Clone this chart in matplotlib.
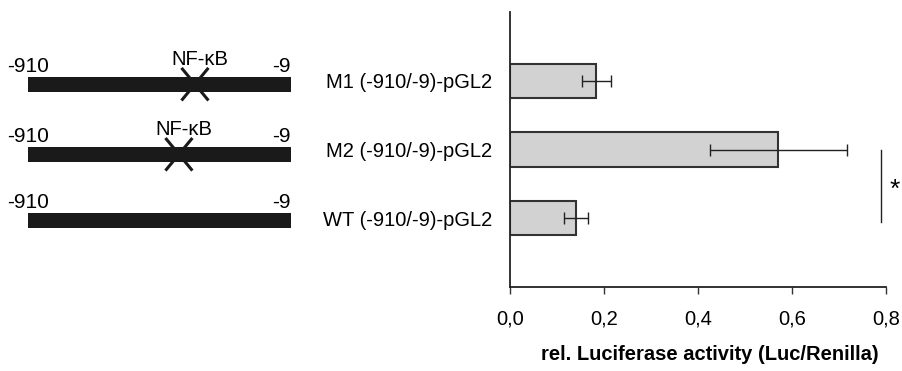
import matplotlib
matplotlib.use("Agg")
import matplotlib.pyplot as plt

plt.rcParams['font.family'] = ['Liberation Sans', 'DejaVu Sans']

# ---- data ----
constructs = ["M1 (-910/-9)-pGL2", "M2 (-910/-9)-pGL2", "WT (-910/-9)-pGL2"]
activity = [0.184, 0.571, 0.140]
activity_err = [0.030, 0.145, 0.025]
x_ticks = [0.0, 0.2, 0.4, 0.6, 0.8]
x_tick_labels = ["0,0", "0,2", "0,4", "0,6", "0,8"]
x_label = "rel. Luciferase activity (Luc/Renilla)"
promoter_start = -910
promoter_end = -9
nfkb_sites = [-338, -393, None]   # mutated NF-kB site per construct (None = WT)
nfkb_label = "NF-\u03baB"

FS = 14.5

fig = plt.figure(figsize=(9.02, 3.71), dpi=100)

# ---- right: bar chart ----
ax = fig.add_axes([510/902, 1-287/371, 376/902, 275/371])
ypos = [2, 1, 0]
ax.barh(ypos, activity, height=0.5, color="#d2d2d2", edgecolor="#333333",
        linewidth=1.5, zorder=2)
ax.errorbar(activity, ypos, xerr=activity_err, fmt='none', ecolor="#222222",
            elinewidth=1.0, capsize=4, capthick=1.0, zorder=3)
ax.set_ylim(-1, 3)
ax.set_xlim(0, 0.8)
ax.set_yticks(ypos)
ax.set_yticklabels(constructs, fontsize=FS)
ax.set_xticks(x_ticks)
ax.set_xticklabels(x_tick_labels, fontsize=FS)
ax.tick_params(axis='y', length=0, pad=13)
ax.tick_params(axis='x', length=5, width=1.0, direction='out', pad=11, color="#333333")
for s in ['top', 'right']:
    ax.spines[s].set_visible(False)
for s in ['left', 'bottom']:
    ax.spines[s].set_linewidth(1.3)
    ax.spines[s].set_color("#222222")

# significance bracket between M2 and WT
ax.plot([0.79, 0.79], [ypos[1], ypos[2] - 0.06], color="#222222", lw=1.0,
        clip_on=False)
ax.text(0.818, 0.42, "*", fontsize=19, ha='center', va='center', clip_on=False)

fig.text(710/902, 1-355/371, x_label, fontsize=FS, fontweight='bold',
         ha='center', va='center')

# ---- left: promoter diagrams ----
axl = fig.add_axes([0, 1-287/371, 320/902, 275/371])
px = (promoter_end - promoter_start) / 263.0
axl.set_xlim(promoter_start - 28 * px, promoter_start + 292 * px)
axl.set_ylim(-1, 3)
axl.axis('off')
row_offset = [-0.05, -0.07, -0.03]
bar_h = 0.22
for i, y in enumerate(ypos):
    yc = y + row_offset[i]
    axl.barh(yc, promoter_end - promoter_start, left=promoter_start,
             height=bar_h, color="#1a1a1a", edgecolor="none")
    axl.text(promoter_start, yc + bar_h/2 + 0.005, str(promoter_start),
             fontsize=FS + 0.5, ha='center', va='bottom')
    axl.text(promoter_end, yc + bar_h/2 + 0.005, str(promoter_end),
             fontsize=FS + 0.5, ha='right', va='bottom')
    site = nfkb_sites[i]
    if site is not None:
        dx = 12.5 * px
        dy = 0.22
        axl.plot([site - dx, site + dx], [yc + dy, yc - dy], color="#1a1a1a", lw=2.2)
        axl.plot([site - dx, site + dx], [yc - dy, yc + dy], color="#1a1a1a", lw=2.2)
        axl.text(site + 5 * px, yc + dy + 0.0, nfkb_label, fontsize=FS,
                 ha='center', va='bottom')

fig.savefig("out.png", dpi=100)
